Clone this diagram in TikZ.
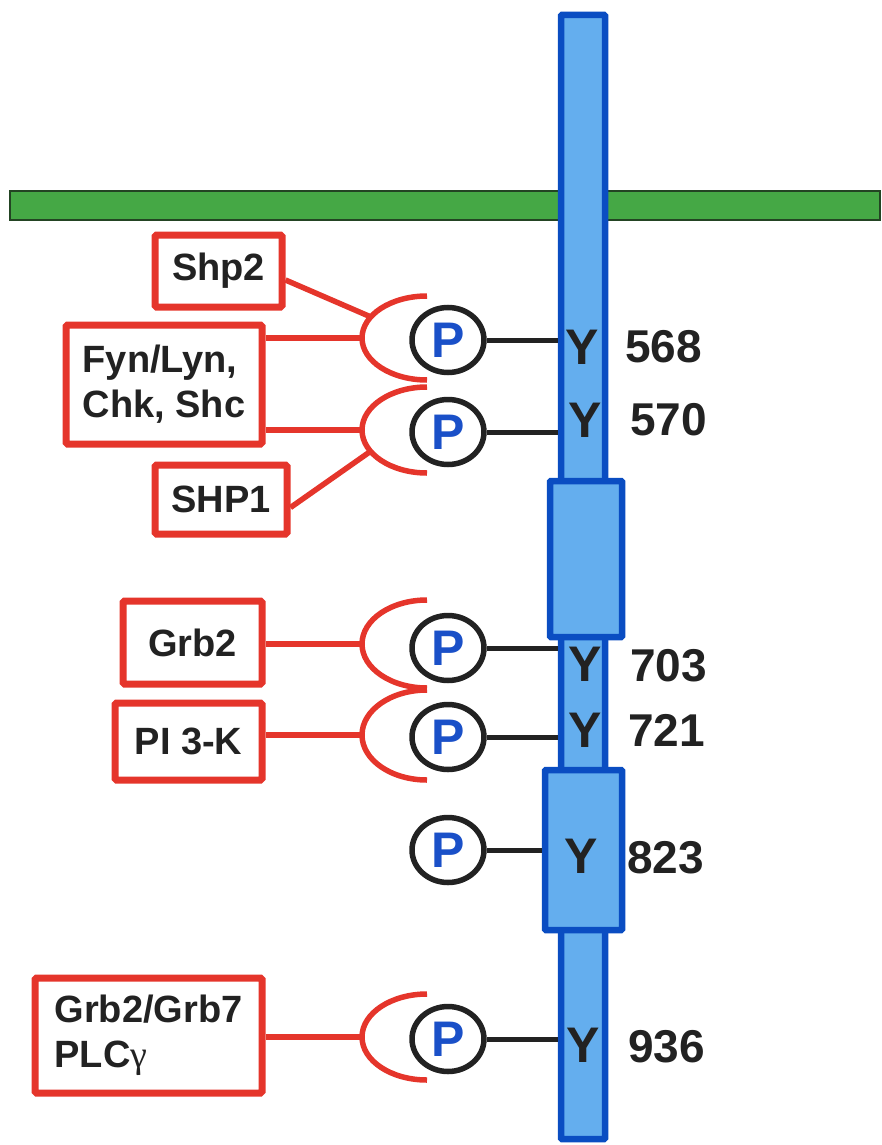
\documentclass[tikz,border=0pt]{standalone}
\usepackage{fontspec}
\setmainfont{Liberation Sans}
\newfontfamily\grk{Liberation Serif}
\usetikzlibrary{shapes.geometric,calc}
\definecolor{redc}{HTML}{E5352B}
\definecolor{bluedark}{HTML}{0A4DC2}
\definecolor{bluefill}{HTML}{64AEEE}
\definecolor{greenc}{HTML}{45A845}
\definecolor{greendark}{HTML}{234423}
\definecolor{txt}{HTML}{222222}
\definecolor{pblue}{HTML}{1A50C8}
\begin{document}
\begin{tikzpicture}[x=1pt,y=-1pt,
  redbox/.style={draw=redc,line width=7pt,rounded corners=1.5pt,fill=white,inner sep=0pt,
    font=\fontsize{38}{45}\selectfont\bfseries,text=txt,align=left},
  redline/.style={draw=redc,line width=5.5pt},
  redarc/.style={draw=redc,line width=5.5pt},
  bluebox/.style={draw=bluedark,fill=bluefill,line width=6.5pt,inner sep=0pt,rounded corners=1pt},
  membrane/.style={draw=greendark,fill=greenc,line width=2pt,inner sep=0pt},
  pcirc/.style={ellipse,draw=txt,line width=5.5pt,fill=white,minimum width=72pt,minimum height=65pt,
    inner sep=0pt,text=pblue,font=\fontsize{50}{50}\selectfont\bfseries},
  blk/.style={draw=txt,line width=5pt},
  ylab/.style={inner sep=0pt,text=txt,font=\fontsize{50}{50}\selectfont\bfseries},
  num/.style={inner sep=0pt,anchor=west,text=txt,font=\fontsize{46}{46}\selectfont\bfseries}
]
\useasboundingbox (0,0) rectangle (881,1145);
% membrane
\node[membrane,minimum width=870pt,minimum height=29pt] (mem) at (444.5,205) {};
% receptor
\node[bluebox,minimum width=44pt,minimum height=1124pt] (bar) at (583,577) {};
\node[bluebox,minimum width=72pt,minimum height=156pt] (box1) at (586,559) {};
\node[bluebox,minimum width=77pt,minimum height=160pt] (box2) at (583.5,850) {};
% phosphates
\node[pcirc] (P1) at (448,340) {P};
\node[pcirc] (P2) at (448,432) {P};
\node[pcirc] (P3) at (448,648) {P};
\node[pcirc] (P4) at (448,737) {P};
\node[pcirc] (P5) at (448,850) {P};
\node[pcirc] (P6) at (448,1039) {P};
\draw[blk] (P1.east) -- (P1.east -| bar.west);
\draw[blk] (P2.east) -- (P2.east -| bar.west);
\draw[blk] (P3.east) -- (P3.east -| bar.west);
\draw[blk] (P4.east) -- (P4.east -| bar.west);
\draw[blk] (P5.east) -- (P5.east -| box2.west);
\draw[blk] (P6.east) -- (P6.east -| bar.west);
% tyrosines
\node[ylab] (Y1) at (582,347) {Y};
\node[ylab] (Y2) at (585,420) {Y};
\node[ylab] (Y3) at (585,664) {Y};
\node[ylab] (Y4) at (585,730) {Y};
\node[ylab] (Y5) at (581,856) {Y};
\node[ylab] (Y6) at (583,1045) {Y};
\node[num] (n1) at (625,347) {568};
\node[num] (n2) at (630,420) {570};
\node[num] (n3) at (630,666) {703};
\node[num] (n4) at (628,730) {721};
\node[num] (n5) at (627,858) {823};
\node[num] (n6) at (628,1047) {936};
% binding arcs
\draw[redarc] (427,296) arc[start angle=270,end angle=90,x radius=65,y radius=42];
\draw[redarc] (427,387) arc[start angle=270,end angle=90,x radius=65,y radius=43];
\draw[redarc] (427,600) arc[start angle=270,end angle=90,x radius=65,y radius=44];
\draw[redarc] (427,690) arc[start angle=270,end angle=90,x radius=65,y radius=45];
\draw[redarc] (427,994) arc[start angle=270,end angle=90,x radius=65,y radius=43];
\coordinate (a1ul) at (371,317);
\coordinate (a1L) at (362,338);
\coordinate (a2L) at (362,430);
\coordinate (a2ll) at (371,451);
\coordinate (a3L) at (362,644);
\coordinate (a4L) at (362,735);
\coordinate (a6L) at (362,1037);
% partner boxes
\node[redbox,minimum width=127pt,minimum height=72pt] (shp2) at (218.5,271) {Shp2};
\node[redbox,minimum width=196pt,minimum height=119pt] (fyn) at (164,384.5) {Fyn/Lyn,\\Chk, Shc};
\node[redbox,minimum width=132pt,minimum height=69pt] (shp1) at (221,499.5) {SHP1};
\node[redbox,minimum width=139pt,minimum height=83pt] (grb2) at (192.5,642.5) {Grb2};
\node[redbox,minimum width=147pt,minimum height=77pt] (pi3k) at (188.5,741.5) {PI 3-K};
\node[redbox,minimum width=227pt,minimum height=115pt] (grb7) at (148.5,1035.5) {Grb2/Grb7\\PLC{\grk\mdseries γ}};
% connectors
\draw[redline] ([yshift=-9pt]shp2.east) -- (a1ul);
\draw[redline] (fyn.east |- a1L) -- (a1L);
\draw[redline] (fyn.east |- a2L) -- (a2L);
\draw[redline] ([yshift=-8pt]shp1.east) -- (a2ll);
\draw[redline] (grb2.east |- a3L) -- (a3L);
\draw[redline] (pi3k.east |- a4L) -- (a4L);
\draw[redline] (grb7.east |- a6L) -- (a6L);
\end{tikzpicture}
\end{document}
